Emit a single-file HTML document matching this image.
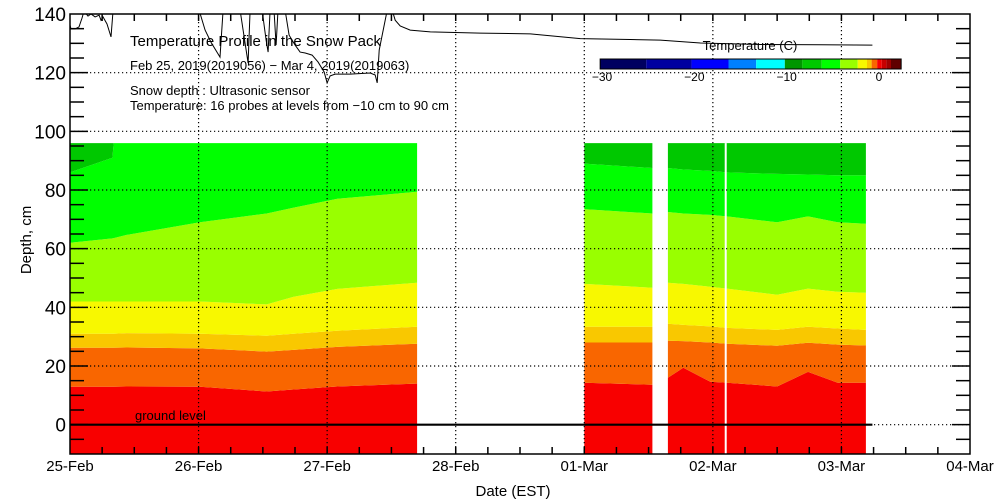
<!DOCTYPE html>
<html><head><meta charset="utf-8"><style>
html,body{margin:0;padding:0;background:#fff;}
svg{display:block;font-family:"Liberation Sans",sans-serif;}
</style></head><body>
<svg id="chart" width="1000" height="500" viewBox="0 0 1000 500" xmlns="http://www.w3.org/2000/svg">
<defs><clipPath id="plotclip"><rect x="70" y="14" width="900" height="440"/></clipPath></defs>
<g id="bands" clip-path="url(#plotclip)"></g>
<g id="grid"></g>
<g id="snow" clip-path="url(#plotclip)"></g>
<g id="axes"></g>
<g font-size="14" fill="#000">
<text x="130" y="46" font-size="15">Temperature Profile in the Snow Pack</text>
<text x="130" y="70" font-size="13">Feb 25, 2019(2019056) − Mar  4, 2019(2019063)</text>
<text x="130" y="95" font-size="13">Snow depth : Ultrasonic sensor</text>
<text x="130" y="110" font-size="13">Temperature: 16 probes at levels from −10 cm to 90 cm</text>
<text x="135" y="420" font-size="13">ground level</text>
<text x="513" y="496" font-size="15" text-anchor="middle">Date (EST)</text>
<text transform="translate(31,240) rotate(-90)" font-size="15" text-anchor="middle">Depth, cm</text>
</g>
<g id="legend"></g>
</svg>
<script>
// ---- data ----
const bandColors = ["#f80000","#f96600","#f9c800","#f8f800","#99ff00","#00ff00","#00c800"];
const seg1Days = [0, 0.33, 0.34, 0.44, 1.01, 1.53, 1.74, 2.08, 2.7];
const seg1RedOrange = [12.9, 12.9, 12.9, 13, 12.9, 11.3, 12, 13, 14];
const seg1OrangeLight = [26.2, 26.2, 26.2, 26.3, 26, 24.9, 25.5, 26.5, 27.6];
const seg1LightYellow = [31, 31, 31, 31.2, 31, 30.3, 31, 32, 33.4];
const seg1YellowLime = [42, 42, 42, 42, 42, 41, 43.6, 46.3, 48.4];
const seg1LimeGreen = [62, 63.5, 63.6, 64.7, 69, 72, 74, 77, 79.4];
const seg1GreenDark = [86, 91, 96, 96, 96, 96, 96, 96, 96];
const seg2Days = [4.0, 4.53];
const seg2RedOrange = [14.3, 13.6];
const seg2OrangeLight = [28, 28];
const seg2LightYellow = [33.4, 33.4];
const seg2YellowLime = [48, 46.7];
const seg2LimeGreen = [73.5, 72];
const seg2GreenDark = [89, 87.5];
const seg3Days = [4.65, 4.77, 4.98, 5.11, 5.5, 5.74, 5.97, 6.19];
const seg3RedOrange = [16, 19.4, 14.6, 14.3, 13, 18, 14.3, 14.3];
const seg3OrangeLight = [28.6, 28.5, 28, 27.6, 26.9, 27.9, 27.3, 27];
const seg3LightYellow = [34.4, 34, 33.5, 33, 32.3, 33.4, 32.8, 32.3];
const seg3YellowLime = [48.4, 48, 47, 46.4, 44.3, 46.4, 45.3, 45];
const seg3LimeGreen = [72.5, 72, 71.5, 71, 69, 71, 69, 68.5];
const seg3GreenDark = [87.5, 87, 86.5, 86, 85.5, 85.3, 85, 85];
const gapDay = 5.1;
const bottomDepth = -10, topDepth = 96;
const snowDays = [0,0.008,0.039,0.07,0.093,0.109,0.14,0.163,0.195,0.226,0.241,0.257,0.288,0.319,0.335,1.004,1.051,1.097,1.167,1.191,1.323,1.346,1.385,1.401,1.494,1.525,1.541,1.556,1.587,1.603,1.618,1.673,1.704,1.751,1.79,1.829,1.883,1.93,1.977,2.0,2.023,2.062,2.179,2.335,2.374,2.389,2.405,2.436,2.467,2.506,2.529,2.568,2.646,2.802,3.19,3.58,3.969,4.358,4.591,4.903,5.37,5.837,6.241];
const snowDepth = [136.2,134.9,134.9,135.6,138.6,141,139.3,140,139,139.6,137.9,139,136.6,132.2,141.3,141.3,134.5,130.4,125.3,141.3,141.3,134.5,123.3,141.3,141.3,131.1,127,141.3,141.3,129.4,141.3,141.3,132.8,129.4,127,126.7,126,123.6,120.2,116.5,118.9,119.5,119.5,119.9,119.2,116.5,127.7,134.5,141.3,141.3,137.9,135.9,134.5,133.9,133.5,133.2,131.6,131.3,131.1,130.1,129.6,129.5,129.4];
const dayLabels = ["25-Feb","26-Feb","27-Feb","28-Feb","01-Mar","02-Mar","03-Mar","04-Mar"];
const depthTicks = [140,120,100,80,60,40,20,0];
const legendColors = ["#000060","#0000a0","#0000ff","#0080ff","#00ffff","#009600","#00c800","#00ff00","#99ff00","#f8f800","#f9c800","#f96600","#f80000","#c80000","#a00000","#600000"];
const legendEdges = [-30.2,-25.2,-20.3,-16.3,-13.3,-10.2,-8.3,-6.2,-4.2,-2.3,-1.3,-0.8,-0.2,0.3,0.8,1.3,2.4];
const legendTicks = [-30,-20,-10,0];
// ---- scales ----
const NS="http://www.w3.org/2000/svg";
const X0=70,X1=970,Y0=14,Y1=454;
const xs=d=>X0+d*(X1-X0)/7;
const ys=v=>Y1-(v+10)*(Y1-Y0)/150;
const lx=t=>602+(t+30)*(879-602)/30;
function mk(tag,attrs,parent){const e=document.createElementNS(NS,tag);for(const k in attrs)e.setAttribute(k,attrs[k]);parent.appendChild(e);return e;}
// bands
const bandsG=document.getElementById('bands');
const segs=[[seg1Days,[seg1RedOrange,seg1OrangeLight,seg1LightYellow,seg1YellowLime,seg1LimeGreen,seg1GreenDark]],[seg2Days,[seg2RedOrange,seg2OrangeLight,seg2LightYellow,seg2YellowLime,seg2LimeGreen,seg2GreenDark]],[seg3Days,[seg3RedOrange,seg3OrangeLight,seg3LightYellow,seg3YellowLime,seg3LimeGreen,seg3GreenDark]]];
segs.forEach((s,si)=>{
  const days=s[0];
  const bounds=[days.map(()=>bottomDepth)].concat(s[1]).concat([days.map(()=>topDepth)]);
  for(let k=0;k<bandColors.length;k++){
    const lo=bounds[k],hi=bounds[k+1];
    let pts=[];
    days.forEach((d,i)=>pts.push(xs(d).toFixed(1)+','+ys(hi[i]).toFixed(1)));
    for(let i=days.length-1;i>=0;i--)pts.push(xs(days[i]).toFixed(1)+','+ys(lo[i]).toFixed(1));
    const p=mk('polygon',{points:pts.join(' '),fill:bandColors[k]},bandsG);
    
    
  }
});
const gap=mk('rect',{x:xs(gapDay)-1,y:ys(topDepth),width:2,height:ys(bottomDepth)-ys(topDepth),fill:'#fff'},bandsG);


// grid
const gridG=document.getElementById('grid');
for(let d=1;d<7;d++){const l=mk('line',{x1:xs(d),x2:xs(d),y1:Y0,y2:Y1,stroke:'#000','stroke-width':1.2,'stroke-dasharray':'1.2,2.8'},gridG);

}
depthTicks.forEach(v=>{if(v===140)return;const l=mk('line',{x1:X0,x2:X1,y1:ys(v),y2:ys(v),stroke:'#000','stroke-width':1.2,'stroke-dasharray':'1.2,2.8'},gridG);

});
const gl=mk('line',{x1:X0,x2:xs(snowDays[snowDays.length-1]),y1:ys(0),y2:ys(0),stroke:'#000','stroke-width':2.2},gridG);


// snow line
const snowG=document.getElementById('snow');
const sl=mk('polyline',{points:snowDays.map((d,i)=>xs(d).toFixed(1)+','+ys(snowDepth[i]).toFixed(1)).join(' '),fill:'none',stroke:'#000','stroke-width':1},snowG);


// axes
const ax=document.getElementById('axes');
const fr=mk('rect',{x:X0,y:Y0,width:X1-X0,height:Y1-Y0,fill:'none',stroke:'#000','stroke-width':1.5},ax);


for(let v=-5;v<140;v+=5){const len=(v%20===0)?18:14;
 mk('line',{x1:X0,x2:X0+len,y1:ys(v),y2:ys(v),stroke:'#000','stroke-width':1.5},ax);
 mk('line',{x1:X1,x2:X1-len,y1:ys(v),y2:ys(v),stroke:'#000','stroke-width':1.5},ax);}
for(let q=1;q<28;q++){const d=q/4;
 mk('line',{x1:xs(d),x2:xs(d),y1:Y1,y2:Y1-7,stroke:'#000','stroke-width':1.5},ax);
 mk('line',{x1:xs(d),x2:xs(d),y1:Y0,y2:Y0+7,stroke:'#000','stroke-width':1.5},ax);}
depthTicks.forEach(v=>{const t=mk('text',{x:66,y:ys(v)+7,'font-size':19,'text-anchor':'end'},ax);t.textContent=v;

});
dayLabels.forEach((s,i)=>{const t=mk('text',{x:xs(i),y:471,'font-size':15,'text-anchor':'middle'},ax);t.textContent=s;

});
// legend
const lg=document.getElementById('legend');
legendColors.forEach((c,i)=>{const r=mk('rect',{x:lx(legendEdges[i]),y:59,width:lx(legendEdges[i+1])-lx(legendEdges[i]),height:10,fill:c},lg);

});
mk('rect',{x:lx(legendEdges[0]),y:59,width:lx(legendEdges[legendEdges.length-1])-lx(legendEdges[0]),height:10,fill:'none',stroke:'#000','stroke-width':1},lg);
legendTicks.forEach(v=>{const t=mk('text',{x:lx(v),y:81,'font-size':12,'text-anchor':'middle'},lg);t.textContent=(v<0?'−':'')+Math.abs(v);

});
const lt=mk('text',{x:750,y:50,'font-size':13,'text-anchor':'middle'},lg);lt.textContent='Temperature (C)';


</script>
</body></html>
